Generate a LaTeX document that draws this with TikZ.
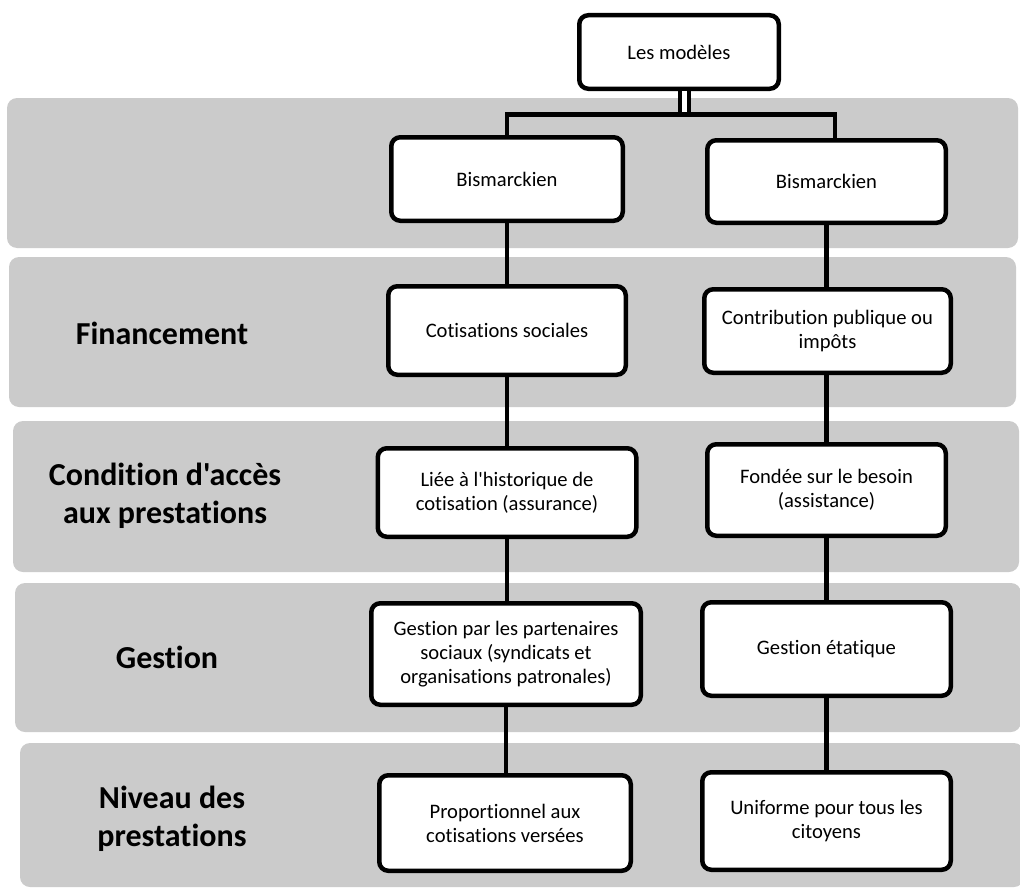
\documentclass[tikz,border=0pt]{standalone}
\usepackage{fontspec}
\setmainfont{Carlito}[Ligatures={TeXOff,NoCommon}]
\definecolor{bandgray}{RGB}{203,203,203}
\begin{document}
\begin{tikzpicture}[x=1pt,y=-1pt,
  band/.style={fill=bandgray, rounded corners=10pt},
  box/.style={draw, line width=4.5pt, fill=white, rounded corners=9pt, align=center,
    font=\fontsize{20.6}{24}\selectfont, inner sep=0pt},
  lab/.style={align=center, font=\fontsize{32}{38}\selectfont\bfseries},
  conn/.style={line width=4.5pt},
  dbl/.style={line width=4pt, double=white, double distance=5pt}]
\useasboundingbox (0,0) rectangle (1020,891);
% bands
\fill[band] (7,98) rectangle (1018,248);
\fill[band] (9,257) rectangle (1016,407);
\fill[band] (13,421) rectangle (1019,572);
\fill[band] (15,583) rectangle (1021,732);
\fill[band] (20,743) rectangle (1024,887);
% row labels
\node[lab] (lfin) at (162,333) {Financement};
\node[lab] (lacc) at (165,496) {Condition d'accès\\aux prestations};
\node[lab] (lges) at (167,657) {Gestion};
\node[lab] (lniv) at (172,819) {Niveau des\\prestations};
% boxes
\node[box, minimum width=199.5pt, minimum height=73.5pt] (top) at (679,52) {Les modèles};
\node[box, minimum width=231.5pt, minimum height=83.5pt] (b1) at (507,179) {Bismarckien};
\node[box, minimum width=237.5pt, minimum height=88.5pt] (cot) at (507,330.5) {Cotisations sociales};
\node[box, minimum width=258.5pt, minimum height=88.5pt] (lie) at (507,492.5) {Liée à l'historique de\\cotisation (assurance)};
\node[box, minimum width=269.5pt, minimum height=101.5pt] (gesp) at (506,654) {Gestion par les partenaires\\sociaux (syndicats et\\organisations patronales)};
\node[box, minimum width=251.5pt, minimum height=95.5pt] (prop) at (505,823) {Proportionnel aux\\cotisations versées};
\node[box, minimum width=238.5pt, minimum height=82.5pt] (b2) at (826.5,181.5) {Bismarckien};
\node[box, minimum width=246.5pt, minimum height=83.5pt] (con) at (827.5,331) {Contribution publique ou\\impôts};
\node[box, minimum width=238.5pt, minimum height=91.5pt] (fon) at (826.5,490) {Fondée sur le besoin\\(assistance)};
\node[box, minimum width=248.5pt, minimum height=93.5pt] (gese) at (826.5,649) {Gestion étatique};
\node[box, minimum width=248.5pt, minimum height=97.5pt] (uni) at (826.5,821) {Uniforme pour tous les\\citoyens};
% connectors
\coordinate (j) at (684,112);
\coordinate (jr) at (835,114.5);
\draw[dbl] (j |- top.south) -- (j);
\draw[conn] (b1.north) |- (jr) -- (jr |- b2.north);
\draw[conn] (b1.south) -- (b1.south |- cot.north);
\draw[conn] (cot.south) -- (cot.south |- lie.north);
\draw[conn] (lie.south) -- (lie.south |- gesp.north);
\draw[conn] (gesp.south) -- (gesp.south |- prop.north);
\draw[conn] (b2.south) -- (b2.south |- con.north);
\draw[conn] (b2.south |- con.south) -- (b2.south |- fon.north);
\draw[conn] (fon.south) -- (fon.south |- gese.north);
\draw[conn] (gese.south) -- (gese.south |- uni.north);
\end{tikzpicture}
\end{document}
